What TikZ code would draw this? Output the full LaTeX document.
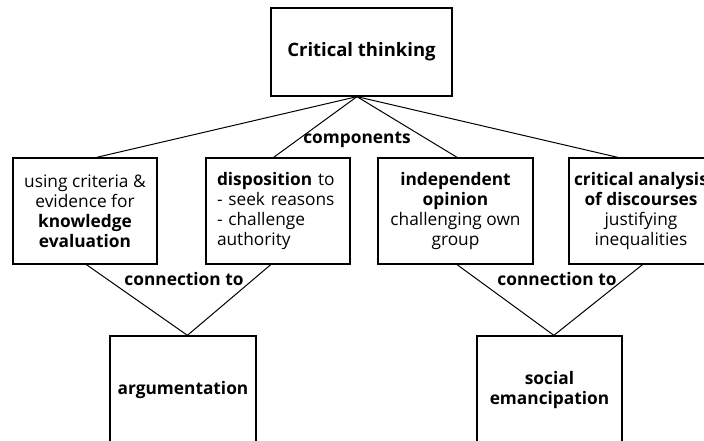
\documentclass[tikz,border=0pt]{standalone}
\usepackage{fontspec}
\setmainfont{Open Sans}
\usetikzlibrary{calc}
\begin{document}
\begin{tikzpicture}[x=1pt,y=-1pt,
  box/.style={draw, line width=1.3pt, inner sep=0pt, align=center, font=\fontsize{17.3}{20}\selectfont},
  lbl/.style={font=\fontsize{17.3}{20}\selectfont\bfseries, inner sep=1pt},
  con/.style={line width=1pt}]
\useasboundingbox (0,0) rectangle (704,441);
\clip (0,0) rectangle (704,441);
\node[box, minimum width=181, minimum height=88, font=\fontsize{18.5}{20}\selectfont\bfseries] (top) at (361.5,52) {Critical thinking};
\node[box, minimum width=144, minimum height=106] (b1) at (85,211) {using criteria \&\\evidence for\\\textbf{knowledge}\\\textbf{evaluation}};
\node[box, minimum width=144, minimum height=106, align=left, text width=122] (b2) at (278,211) {\textbf{disposition} to\\- seek reasons\\- challenge\\authority};
\node[box, minimum width=155, minimum height=106] (b3) at (455.5,211) {\textbf{independent}\\\textbf{opinion}\\challenging own\\group};
\node[box, minimum width=144, minimum height=106] (b4) at (641,211) {\textbf{critical analysis}\\\textbf{of discourses}\\justifying\\inequalities};
\node[box, minimum width=146, minimum height=108, font=\fontsize{17.3}{20}\selectfont\bfseries] (arg) at (183,390) {argumentation};
\node[box, minimum width=145, minimum height=108, font=\fontsize{17.3}{20}\selectfont\bfseries] (soc) at (549.5,390) {social\\emancipation};
\coordinate (apex) at ($(top.south west)!0.475!(top.south east)$);
\draw[con] (apex) -- ($(b1.north west)!0.58!(b1.north east)$);
\draw[con] (apex) -- ($(b2.north west)!0.47!(b2.north east)$);
\draw[con] (apex) -- ($(b3.north west)!0.51!(b3.north east)$);
\draw[con] (apex) -- ($(b4.north west)!0.34!(b4.north east)$);
\coordinate (aapex) at ($(arg.north west)!0.53!(arg.north east)$);
\coordinate (sapex) at ($(soc.north west)!0.53!(soc.north east)$);
\draw[con] ($(b1.south west)!0.51!(b1.south east)$) -- (aapex) -- ($(b2.south west)!0.45!(b2.south east)$);
\draw[con] ($(b3.south west)!0.51!(b3.south east)$) -- (sapex) -- ($(b4.south west)!0.51!(b4.south east)$);
\node[lbl] (comp) at (357,140) {components};
\node[lbl] (c1) at (184,279) {connection to};
\node[lbl] (c2) at (557,279) {connection to};
\end{tikzpicture}
\end{document}
